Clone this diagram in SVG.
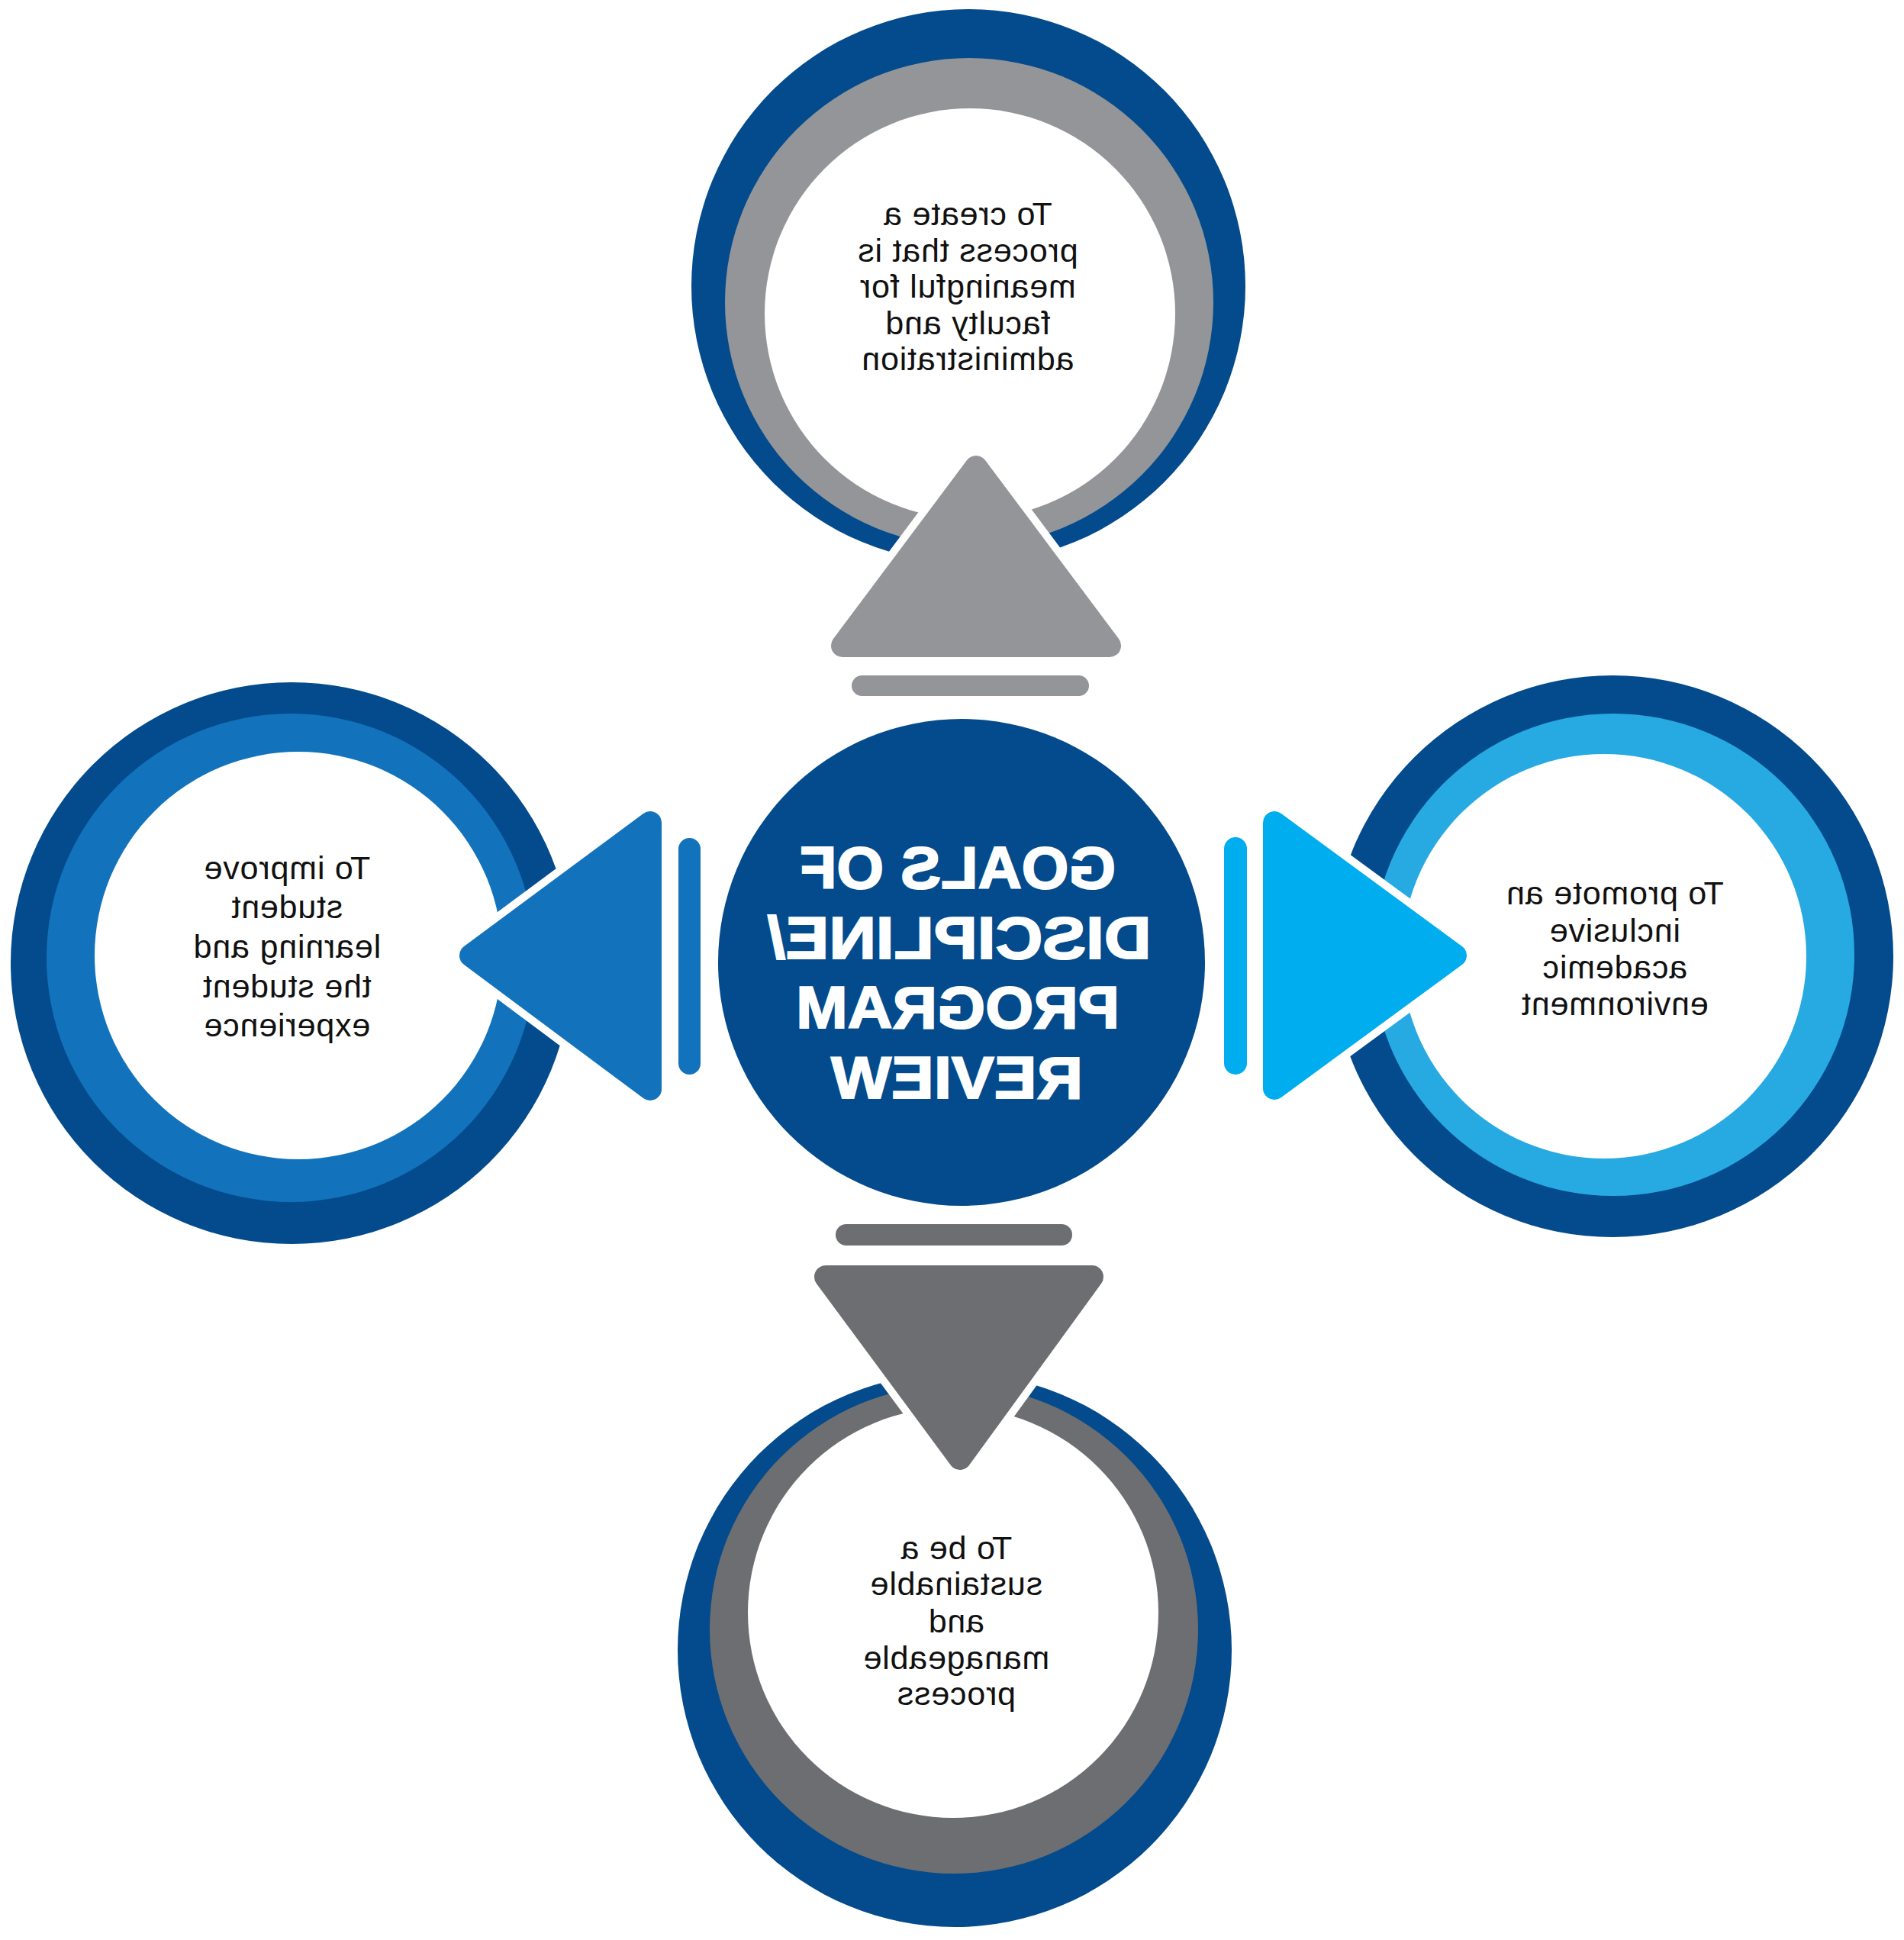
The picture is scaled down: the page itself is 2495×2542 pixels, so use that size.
<svg xmlns="http://www.w3.org/2000/svg" width="2495" height="2542" viewBox="0 0 2495 2542">
<style>
.dk{fill:#034B8C}
.wh{fill:#FFFFFF}
.lbl{font-family:"Liberation Sans",Arial,sans-serif;font-size:43px;letter-spacing:0.8px;fill:#111111;text-anchor:middle}
.hub{font-family:"Liberation Sans",Arial,sans-serif;font-size:78px;font-weight:bold;fill:#FFFFFF;stroke:#FFFFFF;stroke-width:2;text-anchor:middle}
.halo{fill:#FFFFFF;stroke:#FFFFFF;stroke-width:50;stroke-linejoin:round}
.tri{stroke-width:30;stroke-linejoin:round}
</style>
<rect width="2495" height="2542" fill="#FFFFFF"/>
<g id="node-top">
<circle class="dk" cx="1269" cy="375" r="363"/>
<circle cx="1270" cy="396" r="320" fill="#939598"/>
<circle class="wh" cx="1271" cy="411" r="269"/>
<g transform="matrix(-1 0 0 1 2536 0)">
<text class="lbl" x="1268" y="295">To create a</text>
<text class="lbl" x="1268" y="343">process that is</text>
<text class="lbl" x="1268" y="390">meaningful for</text>
<text class="lbl" x="1268" y="438">faculty and</text>
<text class="lbl" x="1268" y="485">administration</text>
</g>
</g>
<g id="node-left">
<circle class="dk" cx="382" cy="1262" r="368"/>
<circle cx="381" cy="1255" r="320" fill="#1273BC"/>
<circle class="wh" cx="391" cy="1252" r="267"/>
<g transform="matrix(-1 0 0 1 752 0)">
<text class="lbl" x="376" y="1152">To improve</text>
<text class="lbl" x="376" y="1203">student</text>
<text class="lbl" x="376" y="1255">learning and</text>
<text class="lbl" x="376" y="1307">the student</text>
<text class="lbl" x="376" y="1358">experience</text>
</g>
</g>
<g id="node-right">
<circle class="dk" cx="2113" cy="1253" r="368"/>
<circle cx="2114" cy="1251" r="316" fill="#27A9E1"/>
<circle class="wh" cx="2102" cy="1253" r="265"/>
<g transform="matrix(-1 0 0 1 4232 0)">
<text class="lbl" x="2116" y="1185">To promote an</text>
<text class="lbl" x="2116" y="1234">inclusive</text>
<text class="lbl" x="2116" y="1282">academic</text>
<text class="lbl" x="2116" y="1330">environment</text>
</g>
</g>
<g id="node-bottom">
<circle class="dk" cx="1251" cy="2162" r="363"/>
<circle cx="1250" cy="2135" r="320" fill="#6D6E71"/>
<circle class="wh" cx="1249" cy="2113" r="269"/>
<g transform="matrix(-1 0 0 1 2506 0)">
<text class="lbl" x="1253" y="2043">To be a</text>
<text class="lbl" x="1253" y="2090">sustainable</text>
<text class="lbl" x="1253" y="2139">and</text>
<text class="lbl" x="1253" y="2187">manageable</text>
<text class="lbl" x="1253" y="2234">process</text>
</g>
</g>
<g id="connectors">
<path class="halo" d="M1279 612 L1454 846 L1104 846 Z"/>
<path class="tri" d="M1279 612 L1454 846 L1104 846 Z" fill="#939598" stroke="#939598"/>
<rect x="1116" y="885" width="311" height="27" rx="13.5" fill="#939598"/>
<path class="halo" d="M1082 1673 L1431 1673 L1258 1911 Z"/>
<path class="tri" d="M1082 1673 L1431 1673 L1258 1911 Z" fill="#6D6E71" stroke="#6D6E71"/>
<rect x="1095" y="1604" width="310" height="28" rx="14" fill="#6D6E71"/>
<path class="halo" d="M617 1252 L852 1078 L852 1427 Z"/>
<path class="tri" d="M617 1252 L852 1078 L852 1427 Z" fill="#1273BC" stroke="#1273BC"/>
<rect x="889" y="1098" width="29" height="310" rx="14.5" fill="#1273BC"/>
<path class="halo" d="M1907 1252 L1670 1078 L1670 1426 Z"/>
<path class="tri" d="M1907 1252 L1670 1078 L1670 1426 Z" fill="#00ADEE" stroke="#00ADEE"/>
<rect x="1604" y="1097" width="30" height="311" rx="15" fill="#00ADEE"/>
</g>
<g id="node-center">
<circle class="dk" cx="1260" cy="1261" r="319"/>
<g transform="matrix(-1 0 0 1 2510 0)">
<text class="hub" x="1255" y="1164" textLength="414" lengthAdjust="spacingAndGlyphs">GOALS OF</text>
<text class="hub" x="1253" y="1256" textLength="503" lengthAdjust="spacingAndGlyphs">DISCIPLINE/</text>
<text class="hub" x="1255" y="1347" textLength="424" lengthAdjust="spacingAndGlyphs">PROGRAM</text>
<text class="hub" x="1256" y="1439" textLength="330" lengthAdjust="spacingAndGlyphs">REVIEW</text>
</g>
</g>
</svg>
